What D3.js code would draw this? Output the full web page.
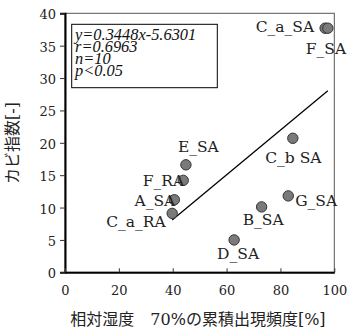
<!DOCTYPE html>
<html>
<head>
<meta charset="utf-8">
<script src="https://cdn.jsdelivr.net/npm/d3@7"></script>
<style>
  html, body { margin: 0; padding: 0; background: #fff; }
  svg { display: block; }
</style>
</head>
<body>
<svg id="chart" width="350" height="332"></svg>
<script>
// Sample sites: cumulative frequency of RH >= 70% vs. mould index
const sites = ["C_a_SA", "F_SA", "E_SA", "F_RA", "A_SA", "C_a_RA", "C_b SA", "G_SA", "B_SA", "D_SA"];
const rhFreq = [96.6, 97.6, 44.9, 43.9, 40.6, 39.8, 84.6, 82.9, 73.0, 62.8];
const moldIndex = [37.7, 37.7, 16.6, 14.2, 11.2, 9.1, 20.7, 11.8, 10.1, 5.0];

// Regression summary
const slope = 0.3448;
const intercept = -5.6301;
const statLines = ["y=0.3448x-5.6301", "r=0.6963", "n=10", "p<0.05"];

const xTicks = [0, 20, 40, 60, 80, 100];
const yTicks = [0, 5, 10, 15, 20, 25, 30, 35, 40];
const xTitle = "相対湿度\u300070%の累積出現頻度[%]";
const yTitle = "カビ指数[-]";

// Label placement around each marker: [anchor, dx, dy]
const labelPlacement = {
  "C_a_SA": ["end", -11, 4],
  "F_SA": ["start", -22, 26],
  "E_SA": ["start", -8, -13],
  "F_RA": ["end", 1, 6],
  "A_SA": ["end", 1, 6.5],
  "C_a_RA": ["end", -6.5, 14],
  "C_b SA": ["middle", 0.5, 25],
  "G_SA": ["start", 7, 10.5],
  "B_SA": ["middle", 1.6, 18],
  "D_SA": ["middle", 4, 19]
};

const svg = d3.select("#chart");
const plotL = 65, plotR = 334.3, plotT = 13.3, plotB = 272.3;

const x = d3.scaleLinear().domain([0, 100]).range([plotL, plotR]);
const y = d3.scaleLinear().domain([0, 40]).range([plotB, plotT]);

const serif = "'DejaVu Serif', 'Noto Sans CJK JP', serif";

// Plot frame (top and right edges)
svg.append("rect")
  .attr("x", plotL).attr("y", plotT)
  .attr("width", plotR - plotL).attr("height", plotB - plotT)
  .attr("fill", "none").attr("stroke", "#555").attr("stroke-width", 1);

// Y axis: outward ticks
const yAxis = svg.append("g")
  .attr("transform", `translate(${plotL},0)`)
  .call(d3.axisLeft(y).tickValues(yTicks).tickSize(5).tickPadding(4).tickFormat(d3.format("d")));
yAxis.select(".domain").attr("stroke", "#000").attr("stroke-width", 2);
yAxis.selectAll(".tick line").attr("stroke", "#333");
yAxis.selectAll(".tick text")
  .attr("font-family", serif).attr("font-size", 13).attr("fill", "#222").attr("dy", "0.42em");

// X axis: inward ticks
const xAxis = svg.append("g")
  .attr("transform", `translate(0,${plotB})`)
  .call(d3.axisBottom(x).tickValues(xTicks).tickSizeInner(-4).tickSizeOuter(0).tickPadding(13).tickFormat(d3.format("d")));
xAxis.select(".domain").attr("stroke", "#000").attr("stroke-width", 2);
xAxis.selectAll(".tick line").attr("stroke", "#333");
xAxis.selectAll(".tick text")
  .attr("font-family", serif).attr("font-size", 13).attr("fill", "#222");

// Axis titles
svg.append("text")
  .attr("x", 198).attr("y", 325)
  .attr("text-anchor", "middle")
  .attr("font-family", serif).attr("font-size", 16).attr("fill", "#222")
  .text(xTitle);

svg.append("text")
  .attr("transform", "translate(18,143) rotate(-90)")
  .attr("text-anchor", "middle")
  .attr("font-family", serif).attr("font-size", 16).attr("fill", "#222")
  .text(yTitle);

// Regression line across the observed x range
const [xMin, xMax] = d3.extent(rhFreq);
svg.append("line")
  .attr("x1", x(xMin)).attr("y1", y(slope * xMin + intercept))
  .attr("x2", x(xMax)).attr("y2", y(slope * xMax + intercept))
  .attr("stroke", "#000").attr("stroke-width", 1.3);

// Markers
const pts = sites.map((s, i) => ({ name: s, x: rhFreq[i], y: moldIndex[i] }));
svg.append("g").selectAll("circle")
  .data(pts).join("circle")
  .attr("cx", d => x(d.x)).attr("cy", d => y(d.y))
  .attr("r", 5.2)
  .attr("fill", "#7a7a7a").attr("stroke", "#333").attr("stroke-width", 1);

// Marker labels
svg.append("g").selectAll("text")
  .data(pts).join("text")
  .attr("x", d => x(d.x) + labelPlacement[d.name][1])
  .attr("y", d => y(d.y) + labelPlacement[d.name][2])
  .attr("text-anchor", d => labelPlacement[d.name][0])
  .attr("font-family", serif).attr("font-size", 15.5).attr("fill", "#222")
  .text(d => d.name);

// Statistics box
svg.append("rect")
  .attr("x", 71.7).attr("y", 24.3).attr("width", 145.6).attr("height", 63.4)
  .attr("fill", "#fff").attr("stroke", "#000").attr("stroke-width", 1);
svg.append("g").selectAll("text")
  .data(statLines).join("text")
  .attr("x", 75).attr("y", (d, i) => 39.5 + i * 12.3)
  .attr("font-family", "'Liberation Serif', serif").attr("font-style", "italic")
  .attr("font-size", 16.4).attr("fill", "#111")
  .text(d => d);
</script>
</body>
</html>
